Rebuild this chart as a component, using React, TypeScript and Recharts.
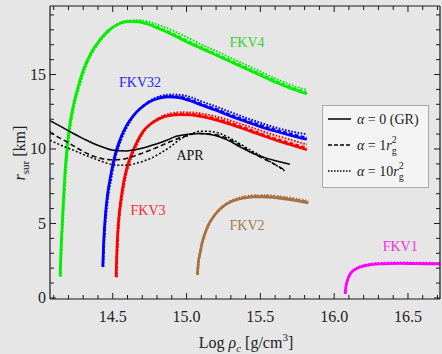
import React from 'react';
import { LineChart, Line, XAxis, YAxis, Legend, ReferenceDot } from 'recharts';

// ---------- data ----------
const X_TICKS = [14.1, 14.2, 14.3, 14.4, 14.5, 14.6, 14.7, 14.8, 14.9, 15.0, 15.1, 15.2, 15.3, 15.4, 15.5, 15.6, 15.7, 15.8, 15.9, 16.0, 16.1, 16.2, 16.3, 16.4, 16.5, 16.6, 16.7];
const X_LABELS = [14.5, 15.0, 15.5, 16.0, 16.5];
const Y_TICKS = [0, 1, 2, 3, 4, 5, 6, 7, 8, 9, 10, 11, 12, 13, 14, 15, 16, 17, 18, 19];
const Y_LABELS = [0, 5, 10, 15];

const FKV4_A0 = [[14.143, 1.45], [14.148, 3.0], [14.155, 4.5], [14.165, 6.5], [14.177, 8.6], [14.19, 10.1], [14.205, 11.4], [14.23, 12.8], [14.26, 14.0], [14.3, 15.3], [14.35, 16.4], [14.41, 17.3], [14.47, 17.95], [14.53, 18.35], [14.6, 18.55], [14.66, 18.55], [14.73, 18.4], [14.82, 18.05], [14.91, 17.65], [15.0, 17.2], [15.1, 16.75], [15.2, 16.3], [15.3, 15.85], [15.4, 15.4], [15.5, 14.95], [15.6, 14.5], [15.7, 14.1], [15.815, 13.7]];
const FKV4_A1 = [[14.145, 1.45], [14.15, 3.0], [14.157, 4.5], [14.167, 6.5], [14.18, 8.6], [14.193, 10.1], [14.208, 11.4], [14.233, 12.8], [14.263, 14.0], [14.304, 15.3], [14.354, 16.4], [14.414, 17.3], [14.474, 17.95], [14.534, 18.37], [14.604, 18.58], [14.665, 18.58], [14.735, 18.44], [14.825, 18.1], [14.915, 17.71], [15.005, 17.27], [15.1, 16.83], [15.2, 16.38], [15.3, 15.93], [15.4, 15.48], [15.5, 15.03], [15.6, 14.58], [15.7, 14.18], [15.815, 13.78]];
const FKV4_A10 = [[14.148, 1.45], [14.153, 3.0], [14.16, 4.5], [14.171, 6.5], [14.184, 8.6], [14.197, 10.1], [14.213, 11.4], [14.238, 12.8], [14.269, 14.0], [14.31, 15.3], [14.36, 16.4], [14.42, 17.3], [14.48, 17.95], [14.54, 18.4], [14.61, 18.62], [14.68, 18.65], [14.75, 18.52], [14.84, 18.22], [14.93, 17.85], [15.02, 17.42], [15.1, 17.02], [15.2, 16.58], [15.3, 16.12], [15.4, 15.66], [15.5, 15.2], [15.6, 14.74], [15.7, 14.33], [15.815, 13.95]];

const FKV32_A0 = [[14.432, 2.1], [14.437, 3.5], [14.443, 4.6], [14.45, 5.6], [14.465, 7.0], [14.482, 8.0], [14.505, 9.2], [14.527, 10.0], [14.56, 10.9], [14.595, 11.6], [14.64, 12.25], [14.685, 12.7], [14.73, 13.05], [14.775, 13.28], [14.83, 13.45], [14.88, 13.5], [14.95, 13.45], [15.02, 13.25], [15.1, 12.95], [15.2, 12.6], [15.3, 12.2], [15.4, 11.85], [15.5, 11.5], [15.6, 11.2], [15.7, 10.93], [15.815, 10.65]];
const FKV32_A1 = [[14.434, 2.1], [14.439, 3.5], [14.445, 4.6], [14.452, 5.6], [14.467, 7.0], [14.485, 8.0], [14.508, 9.2], [14.53, 10.0], [14.563, 10.9], [14.598, 11.6], [14.643, 12.27], [14.688, 12.73], [14.733, 13.09], [14.778, 13.33], [14.833, 13.5], [14.885, 13.55], [14.955, 13.51], [15.025, 13.32], [15.1, 13.03], [15.2, 12.68], [15.3, 12.29], [15.4, 11.94], [15.5, 11.6], [15.6, 11.3], [15.7, 11.03], [15.815, 10.76]];
const FKV32_A10 = [[14.437, 2.1], [14.442, 3.5], [14.448, 4.6], [14.456, 5.6], [14.472, 7.0], [14.49, 8.0], [14.513, 9.2], [14.536, 10.0], [14.569, 10.9], [14.604, 11.6], [14.65, 12.3], [14.695, 12.78], [14.74, 13.16], [14.785, 13.42], [14.84, 13.6], [14.9, 13.66], [14.97, 13.62], [15.04, 13.44], [15.1, 13.2], [15.2, 12.85], [15.3, 12.47], [15.4, 12.1], [15.5, 11.76], [15.6, 11.45], [15.7, 11.2], [15.815, 10.98]];

const FKV3_A0 = [[14.522, 1.4], [14.527, 3.0], [14.533, 4.3], [14.54, 5.3], [14.555, 6.6], [14.572, 7.7], [14.6, 8.9], [14.629, 9.7], [14.665, 10.5], [14.707, 11.2], [14.76, 11.7], [14.82, 12.05], [14.89, 12.25], [14.96, 12.3], [15.03, 12.28], [15.1, 12.18], [15.2, 11.95], [15.3, 11.65], [15.4, 11.3], [15.5, 10.95], [15.6, 10.6], [15.7, 10.3], [15.815, 9.95]];
const FKV3_A1 = [[14.524, 1.4], [14.529, 3.0], [14.535, 4.3], [14.542, 5.3], [14.557, 6.6], [14.575, 7.7], [14.603, 8.9], [14.632, 9.7], [14.668, 10.5], [14.71, 11.22], [14.763, 11.74], [14.823, 12.1], [14.893, 12.31], [14.963, 12.36], [15.033, 12.35], [15.1, 12.26], [15.2, 12.03], [15.3, 11.74], [15.4, 11.4], [15.5, 11.05], [15.6, 10.71], [15.7, 10.41], [15.815, 10.07]];
const FKV3_A10 = [[14.527, 1.4], [14.532, 3.0], [14.538, 4.3], [14.546, 5.3], [14.562, 6.6], [14.58, 7.7], [14.608, 8.9], [14.638, 9.7], [14.674, 10.5], [14.716, 11.25], [14.77, 11.8], [14.83, 12.18], [14.9, 12.4], [14.97, 12.46], [15.04, 12.45], [15.1, 12.38], [15.2, 12.18], [15.3, 11.9], [15.4, 11.58], [15.5, 11.25], [15.6, 10.92], [15.7, 10.63], [15.815, 10.3]];

const APR_A0 = [[14.075, 11.9], [14.15, 11.5], [14.233, 11.04], [14.3, 10.7], [14.369, 10.37], [14.44, 10.1], [14.504, 9.92], [14.595, 9.87], [14.66, 9.97], [14.73, 10.14], [14.8, 10.35], [14.866, 10.59], [14.93, 10.85], [15.0, 10.98], [15.09, 11.04], [15.16, 10.97], [15.226, 10.81], [15.3, 10.5], [15.362, 10.14], [15.43, 9.8], [15.5, 9.52], [15.59, 9.25], [15.7, 8.98]];
const APR_A1 = [[14.075, 11.15], [14.13, 10.8], [14.19, 10.48], [14.27, 10.0], [14.35, 9.6], [14.43, 9.35], [14.5, 9.27], [14.56, 9.3], [14.63, 9.48], [14.7, 9.72], [14.798, 10.1], [14.88, 10.45], [14.956, 10.75], [15.02, 10.95], [15.069, 11.04], [15.14, 11.02], [15.226, 10.9], [15.3, 10.6], [15.408, 9.97], [15.5, 9.45], [15.589, 9.02], [15.668, 8.57]];
const APR_A10 = [[14.075, 10.59], [14.15, 10.25], [14.233, 9.92], [14.31, 9.6], [14.392, 9.29], [14.46, 9.05], [14.527, 8.91], [14.6, 8.92], [14.663, 9.05], [14.74, 9.3], [14.82, 9.7], [14.89, 10.15], [14.956, 10.64], [15.03, 11.0], [15.091, 11.2], [15.16, 11.18], [15.227, 11.04], [15.3, 10.7], [15.408, 10.07], [15.5, 9.55], [15.588, 9.02], [15.668, 8.53]];

const FKV2_A0 = [[15.073, 1.55], [15.08, 2.4], [15.091, 3.0], [15.105, 3.7], [15.125, 4.35], [15.15, 4.95], [15.182, 5.45], [15.215, 5.85], [15.249, 6.15], [15.29, 6.4], [15.34, 6.6], [15.4, 6.72], [15.453, 6.78], [15.52, 6.78], [15.588, 6.74], [15.65, 6.67], [15.701, 6.6], [15.76, 6.5], [15.825, 6.38]];
const FKV2_A1 = [[15.074, 1.55], [15.081, 2.4], [15.092, 3.0], [15.106, 3.7], [15.126, 4.35], [15.151, 4.95], [15.183, 5.46], [15.216, 5.87], [15.25, 6.18], [15.291, 6.44], [15.341, 6.64], [15.4, 6.77], [15.453, 6.83], [15.52, 6.84], [15.588, 6.8], [15.65, 6.73], [15.701, 6.66], [15.76, 6.56], [15.825, 6.44]];
const FKV2_A10 = [[15.076, 1.55], [15.083, 2.4], [15.094, 3.0], [15.108, 3.7], [15.128, 4.35], [15.153, 4.95], [15.185, 5.47], [15.218, 5.89], [15.252, 6.21], [15.293, 6.48], [15.343, 6.69], [15.4, 6.83], [15.453, 6.89], [15.52, 6.9], [15.588, 6.87], [15.65, 6.8], [15.701, 6.73], [15.76, 6.63], [15.825, 6.5]];

const FKV1_A0 = [[16.074, 0.28], [16.08, 0.8], [16.09, 1.2], [16.105, 1.55], [16.119, 1.74], [16.145, 1.93], [16.175, 2.07], [16.22, 2.18], [16.266, 2.25], [16.32, 2.28], [16.379, 2.3], [16.45, 2.31], [16.537, 2.3], [16.62, 2.29], [16.75, 2.27]];
const FKV1_A1 = [[16.075, 0.28], [16.081, 0.8], [16.091, 1.2], [16.106, 1.56], [16.12, 1.76], [16.146, 1.95], [16.176, 2.1], [16.221, 2.21], [16.267, 2.28], [16.32, 2.31], [16.379, 2.33], [16.45, 2.34], [16.537, 2.33], [16.62, 2.32], [16.75, 2.3]];
const FKV1_A10 = [[16.076, 0.28], [16.082, 0.8], [16.092, 1.2], [16.107, 1.57], [16.121, 1.78], [16.147, 1.98], [16.177, 2.13], [16.222, 2.25], [16.268, 2.32], [16.32, 2.35], [16.379, 2.37], [16.45, 2.38], [16.537, 2.37], [16.62, 2.36], [16.75, 2.34]];

// order: FKV4, FKV32, FKV3, APR, FKV2, FKV1
const EOS_NAMES = ['FKV4', 'FKV32', 'FKV3', 'APR', 'FKV2', 'FKV1'];
const EOS_COLORS = ['#00f000', '#0000ff', '#ff0000', '#000000', '#a8703c', '#ff00ff'];
const LABEL_COLORS = ['#2ed82e', '#2424ff', '#ff2a2a', '#111111', '#a87a4c', '#ff2ae6'];
const LABEL_X = [15.41, 14.685, 14.739, 15.024, 15.41, 16.447];
const LABEL_Y = [17.18, 14.5, 5.9, 9.6, 4.9, 3.49];
const SERIES = [
  [FKV4_A0, FKV4_A1, FKV4_A10],
  [FKV32_A0, FKV32_A1, FKV32_A10],
  [FKV3_A0, FKV3_A1, FKV3_A10],
  [APR_A0, APR_A1, APR_A10],
  [FKV2_A0, FKV2_A1, FKV2_A10],
  [FKV1_A0, FKV1_A1, FKV1_A10],
];

const FONT = '"Liberation Serif", "DejaVu Serif", serif';
const AXIS_COLOR = '#1a1a1a';
const TEXT_COLOR = '#222';

const toPts = (arr: number[][]) => arr.map(([x, y]) => ({ x, y }));
const isLabel = (v: number, labels: number[]) => labels.some((l) => Math.abs(l - v) < 1e-6);

const BottomTick = (props: any) => {
  const { x, y, payload } = props;
  const v = payload.value as number;
  const major = isLabel(v, X_LABELS);
  return (
    <g>
      <line x1={x} x2={x} y1={y} y2={y - (major ? 6 : 4)} stroke={AXIS_COLOR} strokeWidth={1} />
      {major && (
        <text x={x} y={y + 23} textAnchor="middle" fontFamily={FONT} fontSize={16} fill={TEXT_COLOR}>
          {v.toFixed(1)}
        </text>
      )}
    </g>
  );
};
const TopTick = (props: any) => {
  const { x, y, payload } = props;
  const major = isLabel(payload.value, X_LABELS);
  return <line x1={x} x2={x} y1={y} y2={y + (major ? 6 : 4)} stroke={AXIS_COLOR} strokeWidth={1} />;
};
const LeftTick = (props: any) => {
  const { x, y, payload } = props;
  const v = payload.value as number;
  const major = isLabel(v, Y_LABELS);
  return (
    <g>
      <line x1={x} x2={x + (major ? 6 : 4)} y1={y} y2={y} stroke={AXIS_COLOR} strokeWidth={1} />
      {major && (
        <text x={x - 4} y={y + 5.5} textAnchor="end" fontFamily={FONT} fontSize={16} fill={TEXT_COLOR}>
          {v}
        </text>
      )}
    </g>
  );
};
const RightTick = (props: any) => {
  const { x, y, payload } = props;
  const major = isLabel(payload.value, Y_LABELS);
  return <line x1={x} x2={x - (major ? 6 : 4)} y1={y} y2={y} stroke={AXIS_COLOR} strokeWidth={1} />;
};

const LEGEND_ITEMS = [
  { dash: undefined as string | undefined, main: '0 (GR)', sup: false },
  { dash: '4 2', main: '1', sup: true },
  { dash: '1.5 1.5', main: '10', sup: true },
];

const LegendBox = () => (
  <div style={{ width: 107, height: 83, border: '1px solid #a8a8a8', background: '#f4f4f4', boxSizing: 'border-box' }}>
    <svg width={105} height={81} style={{ display: 'block' }}>
      {LEGEND_ITEMS.map((it, i) => {
        const cy = 13 + i * 26;
        return (
          <g key={i}>
            <line x1={5} x2={28} y1={cy} y2={cy} stroke="#000" strokeWidth={1.5} strokeDasharray={it.dash} />
            <text x={34} y={cy + 4.5} fontFamily={FONT} fontSize={14} fill={TEXT_COLOR}>
              <tspan fontStyle="italic">α</tspan>
              <tspan> = {it.main}</tspan>
              {it.sup && (
                <>
                  <tspan fontStyle="italic">r</tspan>
                  <tspan fontSize={10} dy={4}>g</tspan>
                  <tspan fontSize={10} dx={-5} dy={-11}>2</tspan>
                </>
              )}
            </text>
          </g>
        );
      })}
    </svg>
  </div>
);

const STYLES = [
  { w: 2.6, dash: undefined as string | undefined },
  { w: 2.2, dash: '4 2' },
  { w: 2.0, dash: '1.6 1.6' },
];
const APR_STYLES = [
  { w: 1.5, dash: undefined as string | undefined },
  { w: 1.5, dash: '5 3' },
  { w: 1.5, dash: '2 2' },
];

export default function App() {
  const lines: React.ReactNode[] = [];
  SERIES.forEach((group, gi) => {
    const styles = EOS_NAMES[gi] === 'APR' ? APR_STYLES : STYLES;
    [2, 1, 0].forEach((si) => {
      lines.push(
        <Line
          key={`${gi}-${si}`}
          xAxisId="b"
          yAxisId="l"
          data={toPts(group[si])}
          dataKey="y"
          type="monotone"
          stroke={EOS_COLORS[gi]}
          strokeWidth={styles[si].w}
          strokeDasharray={styles[si].dash}
          dot={false}
          activeDot={false}
          isAnimationActive={false}
        />
      );
    });
  });

  const axisLine = { stroke: AXIS_COLOR, strokeWidth: 1.2 };

  return (
    <div style={{ position: 'absolute', left: 0, top: 0, width: 442, height: 354, background: '#e6e6e6' }}>
      <LineChart width={442} height={354} margin={{ top: 4, right: 0, bottom: 25, left: 48 }}>
        <XAxis
          xAxisId="b"
          type="number"
          dataKey="x"
          domain={[14.075, 16.717]}
          ticks={X_TICKS}
          interval={0}
          allowDataOverflow
          height={30}
          tickSize={0}
          tickMargin={0}
          tickLine={false}
          axisLine={axisLine}
          tick={<BottomTick />}
          label={{
            content: () => (
              <text x={246} y={348} textAnchor="middle" fontFamily={FONT} fontSize={16} fill={TEXT_COLOR}>
                <tspan>Log </tspan>
                <tspan fontStyle="italic">ρ</tspan>
                <tspan fontStyle="italic" fontSize={11} dy={4}>c</tspan>
                <tspan dy={-4}> [g/cm</tspan>
                <tspan fontSize={11} dy={-7}>3</tspan>
                <tspan dy={7}>]</tspan>
              </text>
            ),
          }}
        />
        <XAxis
          xAxisId="t"
          orientation="top"
          type="number"
          dataKey="x"
          domain={[14.075, 16.717]}
          ticks={X_TICKS}
          interval={0}
          allowDataOverflow
          height={2}
          tickSize={0}
          tickMargin={0}
          tickLine={false}
          axisLine={axisLine}
          tick={<TopTick />}
        />
        <YAxis
          yAxisId="l"
          type="number"
          domain={[-0.07, 19.6]}
          ticks={Y_TICKS}
          interval={0}
          allowDataOverflow
          width={2}
          tickSize={0}
          tickMargin={0}
          tickLine={false}
          axisLine={axisLine}
          tick={<LeftTick />}
          label={{
            content: () => (
              <text transform="translate(25,153) rotate(-90)" textAnchor="middle" fontFamily={FONT} fontSize={16} fill={TEXT_COLOR}>
                <tspan fontStyle="italic">r</tspan>
                <tspan fontSize={11} dy={4}>sur</tspan>
                <tspan dy={-4}> [km]</tspan>
              </text>
            ),
          }}
        />
        <YAxis
          yAxisId="r"
          orientation="right"
          type="number"
          domain={[-0.07, 19.6]}
          ticks={Y_TICKS}
          interval={0}
          allowDataOverflow
          width={2}
          tickSize={0}
          tickMargin={0}
          tickLine={false}
          axisLine={axisLine}
          tick={<RightTick />}
        />
        {lines}
        {EOS_NAMES.map((name, i) => (
          <ReferenceDot
            key={name}
            xAxisId="b"
            yAxisId="l"
            x={LABEL_X[i]}
            y={LABEL_Y[i]}
            r={0}
            stroke="none"
            fill="none"
            ifOverflow="visible"
            label={{
              content: (p: any) => {
                const vb = p.viewBox || {};
                const cx = (vb.x ?? 0) + (vb.width ?? 0) / 2;
                const cy = (vb.y ?? 0) + (vb.height ?? 0) / 2;
                return (
                  <text x={cx} y={cy + 5} textAnchor="middle" fontFamily={FONT} fontSize={14} fill={LABEL_COLORS[i]}>
                    {name}
                  </text>
                );
              },
            }}
          />
        ))}
        <Legend
          layout="vertical"
          align="center"
          verticalAlign="middle"
          wrapperStyle={{ left: 322, top: 105, width: 107, height: 83 }}
          content={() => <LegendBox />}
        />
      </LineChart>
    </div>
  );
}
